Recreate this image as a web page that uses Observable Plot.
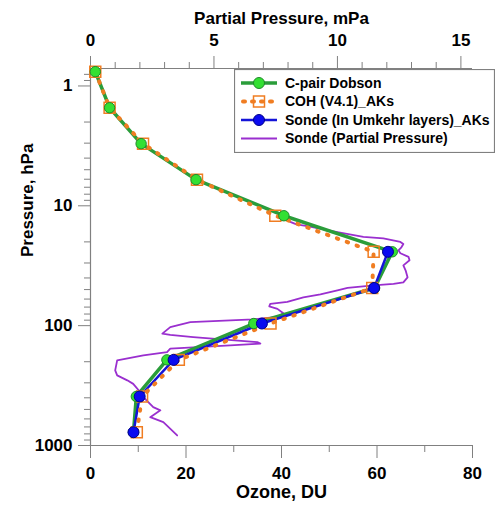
<!DOCTYPE html>
<html><head><meta charset="utf-8">
<script src="https://cdn.jsdelivr.net/npm/d3@7"></script>
<script src="https://cdn.jsdelivr.net/npm/@observablehq/plot@0.6"></script>
<style>
html,body{margin:0;padding:0;background:#fff;}
#wrap{position:relative;width:496px;height:506px;font-family:"Liberation Sans",Arial,sans-serif;}
#legend{position:absolute;left:234px;top:69px;}
</style></head><body><div id="wrap"></div>
<script>
// Umkehr layer centre pressures (hPa)
const layerPressure = [0.76, 1.52, 3.03, 6.05, 12.1, 24.2, 48.5, 96, 193, 390, 775];
// C-pair Dobson (DU)
const dobson = [1.0, 4.0, 10.6, 22.1, 40.5, 63.2, 59.5, 34.2, 16.0, 9.6, 9.0];
// COH (V4.1)_AKs (DU)
const coh = [1.0, 4.0, 11.0, 22.3, 38.7, 59.3, 59.0, 37.7, 18.5, 10.8, 9.7];
// Sonde in Umkehr layers (DU), layers 6..11
const sondePressure = [24.2, 48.5, 96, 193, 390, 775];
const sondeLayers = [62.3, 59.4, 35.9, 17.4, 10.3, 9.0];
// Sonde partial pressure profile
const ppPressure = [13.6,14.3,14.8,16.6,18.2,18.7,20.0,20.8,22.2,23.5,24.9,26.7,28.5,31.4,34.5,39.5,43.5,44.8,46.1,48.3,50.7,54.8,58.0,63.3,65.8,69.0,72.4,78.9,84.5,88.6,93.3,102.8,116.6,119.4,124.5,137,141.3,146,155.6,166,177,195,236,260,286,306,358,394,478,509,580,638,824];
const ppMPa = [8.09,8.34,8.78,10.0,11.05,11.86,12.55,12.67,12.59,12.47,12.55,12.88,12.92,12.67,12.76,12.84,12.67,12.27,11.46,10.41,10.0,9.31,8.62,7.97,7.28,7.24,7.57,7.81,7.57,6.59,4.04,3.23,2.91,3.23,4.16,6.75,6.88,5.66,3.23,3.10,2.14,1.08,1.00,1.08,1.49,1.73,2.01,2.14,2.54,2.83,2.42,2.95,3.51];

// Tick values
const duMajor = [0, 20, 40, 60, 80];
const duMinor = [10, 30, 50, 70];
const mpaMajor = [0, 5, 10, 15];
const mpaMinor = [1,2,3,4,6,7,8,9,11,12,13,14];
const pMajor = [1, 10, 100, 1000];
const pMinor = [0.8,0.9,2,3,4,5,6,7,8,9,20,30,40,50,60,70,80,90,200,300,400,500,600,700,800,900];

const DU_PER_MPA = 80 / 15.47; // top axis full width = 15.47 mPa

const layerRows = layerPressure.map((p, i) => ({p, dobson: dobson[i], coh: coh[i]}));
const sondeRows = sondePressure.map((p, i) => ({p, v: sondeLayers[i]}));
const ppRows = ppPressure.map((p, i) => ({p, v: ppMPa[i] * DU_PER_MPA}));

const GREEN_LINE = "#2a9d3a", GREEN_FILL = "#33e033", GREEN_STROKE = "#1e8a2a";
const ORANGE = "#f07d22";
const BLUE = "#1414d8", BLUE_FILL = "#0a0af0";
const PURPLE = "#9a2fcf";
const AXIS = "#808080";
const F = 17;

const chart = Plot.plot({
  width: 496, height: 506,
  marginLeft: 90, marginRight: 24, marginTop: 68, marginBottom: 61,
  style: {fontFamily: "'Liberation Sans', Arial, sans-serif", background: "white"},
  x: {domain: [0, 80]},
  y: {type: "log", domain: [0.715, 1000], reverse: true},
  marks: [
    // axis lines
    Plot.ruleX([0], {stroke: AXIS, strokeWidth: 1.2}),
    Plot.ruleY([1000], {stroke: AXIS, strokeWidth: 1.2}),
    Plot.ruleY([0.715], {stroke: AXIS, strokeWidth: 1.2}),
    // bottom axis (DU)
    Plot.axisX({anchor: "bottom", ticks: duMajor, tickSize: 13, tickPadding: 8, stroke: AXIS, color: "black", fontSize: F, fontWeight: "bold", label: null, tickFormat: d => String(d)}),
    Plot.axisX({anchor: "bottom", ticks: duMinor, tickSize: 7, stroke: AXIS, tickFormat: () => "", label: null}),
    // top axis (mPa)
    Plot.axisX({anchor: "top", ticks: mpaMajor.map(v => v * DU_PER_MPA), tickSize: 13, tickPadding: 10, stroke: AXIS, color: "black", fontSize: F, fontWeight: "bold", label: null, tickFormat: d => String(Math.round(d / DU_PER_MPA))}),
    Plot.axisX({anchor: "top", ticks: mpaMinor.map(v => v * DU_PER_MPA), tickSize: 7, stroke: AXIS, tickFormat: () => "", label: null}),
    // left axis (hPa)
    Plot.axisY({anchor: "left", ticks: pMajor, tickSize: 12, tickPadding: 6, stroke: AXIS, color: "black", fontSize: F, fontWeight: "bold", label: null, tickFormat: d => String(d)}),
    Plot.axisY({anchor: "left", ticks: pMinor, tickSize: 6, stroke: AXIS, tickFormat: () => "", label: null}),
    // titles
    Plot.text(["Partial Pressure, mPa"], {frameAnchor: "top", dy: -57, fontSize: F, fontWeight: "bold", fill: "black"}),
    Plot.text(["Ozone, DU"], {frameAnchor: "bottom", dy: 52, fontSize: 18, fontWeight: "bold", fill: "black"}),
    Plot.text(["Pressure, hPa"], {frameAnchor: "left", dx: -63, rotate: -90, fontSize: F, fontWeight: "bold", fill: "black"}),
    // data
    Plot.line(ppRows, {x: "v", y: "p", stroke: PURPLE, strokeWidth: 1.8, curve: "linear"}),
    Plot.line(layerRows, {x: "dobson", y: "p", stroke: GREEN_LINE, strokeWidth: 3.5}),
    Plot.line(sondeRows, {x: "v", y: "p", stroke: BLUE, strokeWidth: 2.5}),
    Plot.line(layerRows, {x: "coh", y: "p", stroke: ORANGE, strokeWidth: 4, strokeDasharray: "1.5,9", strokeLinecap: "round"}),
    Plot.dot(layerRows, {x: "coh", y: "p", symbol: "square", r: 6.2, stroke: ORANGE, strokeWidth: 1.5, fill: "none"}),
    Plot.dot(layerRows, {x: "dobson", y: "p", r: 5.2, fill: GREEN_FILL, stroke: GREEN_STROKE, strokeWidth: 1}),
    Plot.dot(sondeRows, {x: "v", y: "p", r: 5.5, fill: BLUE_FILL, stroke: "#00008a", strokeWidth: 1})
  ]
});

const wrap = document.getElementById("wrap");
wrap.appendChild(chart);

// Legend
const legendItems = [
  {label: "C-pair Dobson", kind: "green"},
  {label: "COH (V4.1)_AKs", kind: "orange"},
  {label: "Sonde (In Umkehr layers)_AKs", kind: "blue"},
  {label: "Sonde (Partial Pressure)", kind: "purple"}
];
const lg = d3.create("svg").attr("id", "legend").attr("width", 261).attr("height", 84)
  .style("font-family", "'Liberation Sans', Arial, sans-serif");
lg.append("rect").attr("x", 0.5).attr("y", 0.5).attr("width", 260).attr("height", 83)
  .attr("fill", "white").attr("stroke", AXIS).attr("stroke-width", 1.2);
legendItems.forEach((it, i) => {
  const y = 14 + i * 18.5;
  const g = lg.append("g");
  if (it.kind === "green") {
    g.append("line").attr("x1", 7).attr("x2", 43).attr("y1", y).attr("y2", y).attr("stroke", GREEN_LINE).attr("stroke-width", 3.5);
    g.append("circle").attr("cx", 25).attr("cy", y).attr("r", 5.5).attr("fill", GREEN_FILL).attr("stroke", GREEN_STROKE);
  } else if (it.kind === "orange") {
    g.append("line").attr("x1", 9).attr("x2", 41).attr("y1", y).attr("y2", y).attr("stroke", ORANGE).attr("stroke-width", 4).attr("stroke-dasharray", "2,7").attr("stroke-linecap", "round");
    g.append("rect").attr("x", 19.5).attr("y", y - 5.5).attr("width", 11).attr("height", 11).attr("fill", "none").attr("stroke", ORANGE).attr("stroke-width", 1.5);
  } else if (it.kind === "blue") {
    g.append("line").attr("x1", 7).attr("x2", 43).attr("y1", y).attr("y2", y).attr("stroke", BLUE).attr("stroke-width", 2.5);
    g.append("circle").attr("cx", 25).attr("cy", y).attr("r", 5.5).attr("fill", BLUE_FILL).attr("stroke", "#00008a");
  } else {
    g.append("line").attr("x1", 7).attr("x2", 43).attr("y1", y).attr("y2", y).attr("stroke", PURPLE).attr("stroke-width", 2);
  }
  g.append("text").attr("x", 51).attr("y", y).attr("dy", "0.35em").attr("font-size", 14).attr("font-weight", "bold").attr("fill", "black").text(it.label);
});
wrap.appendChild(lg.node());
</script>
</body></html>
